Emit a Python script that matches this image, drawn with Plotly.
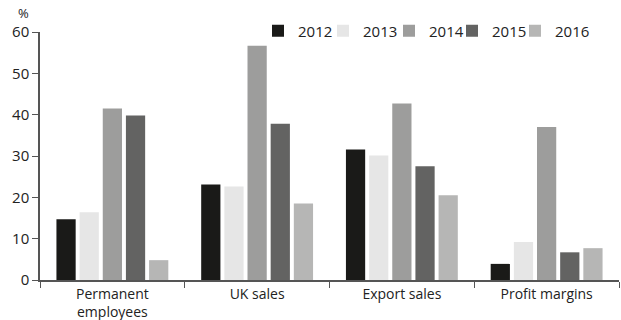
import plotly.graph_objects as go

categories = ["Permanent<br>employees", "UK sales", "Export sales", "Profit margins"]
years = ["2012", "2013", "2014", "2015", "2016"]
values = {
    "2012": [14.7, 23.1, 31.6, 3.9],
    "2013": [16.4, 22.6, 30.1, 9.2],
    "2014": [41.5, 56.7, 42.7, 37.0],
    "2015": [39.8, 37.8, 27.5, 6.7],
    "2016": [4.8, 18.5, 20.5, 7.7],
}
colors = ["#1a1a18", "#e6e6e6", "#9d9d9c", "#636362", "#b6b6b5"]
y_ticks = [0, 10, 20, 30, 40, 50, 60]

# legend entry left positions (container px) for each year
legend_px = [258, 323, 389, 452, 515]

FONT = "Open Sans, Noto Sans, sans-serif"
W, H = 621, 320
fig = go.Figure()
legend_layout = {}
for i, (yr, c) in enumerate(zip(years, colors)):
    lname = "legend" if i == 0 else f"legend{i+1}"
    fig.add_trace(go.Bar(name=yr, x=categories, y=values[yr], legend=lname,
                         marker=dict(color=c, line=dict(width=0))))
    legend_layout[lname] = dict(orientation="h", xref="container", yref="container",
                                x=legend_px[i] / W, xanchor="left", y=1 - 31 / H, yanchor="middle",
                                font=dict(size=15, color="#222"), bgcolor="rgba(0,0,0,0)")

fig.update_layout(
    width=W, height=H,
    margin=dict(l=40, r=2, t=32, b=40, autoexpand=False),
    barmode="group", bargap=0.2, bargroupgap=0.17,
    plot_bgcolor="white", paper_bgcolor="white",
    font=dict(family=FONT, size=14, color="#222"),
    showlegend=True,
    xaxis=dict(showline=True, linecolor="#555", linewidth=1.5, ticks="outside", tickson="boundaries",
               ticklen=6, tickcolor="#555", showgrid=False, tickfont=dict(size=14)),
    yaxis=dict(range=[0, 60], tickvals=y_ticks, showline=True, linecolor="#555", linewidth=1.5,
               ticks="outside", ticklen=6, tickcolor="#555", showgrid=False, zeroline=False,
               tickfont=dict(size=15)),
    **legend_layout,
)
fig.add_annotation(text="%", xref="paper", yref="paper", x=-0.028, y=1.0, yanchor="bottom",
                   xanchor="center", showarrow=False, font=dict(size=13), yshift=8)
fig.write_html("out.html")
